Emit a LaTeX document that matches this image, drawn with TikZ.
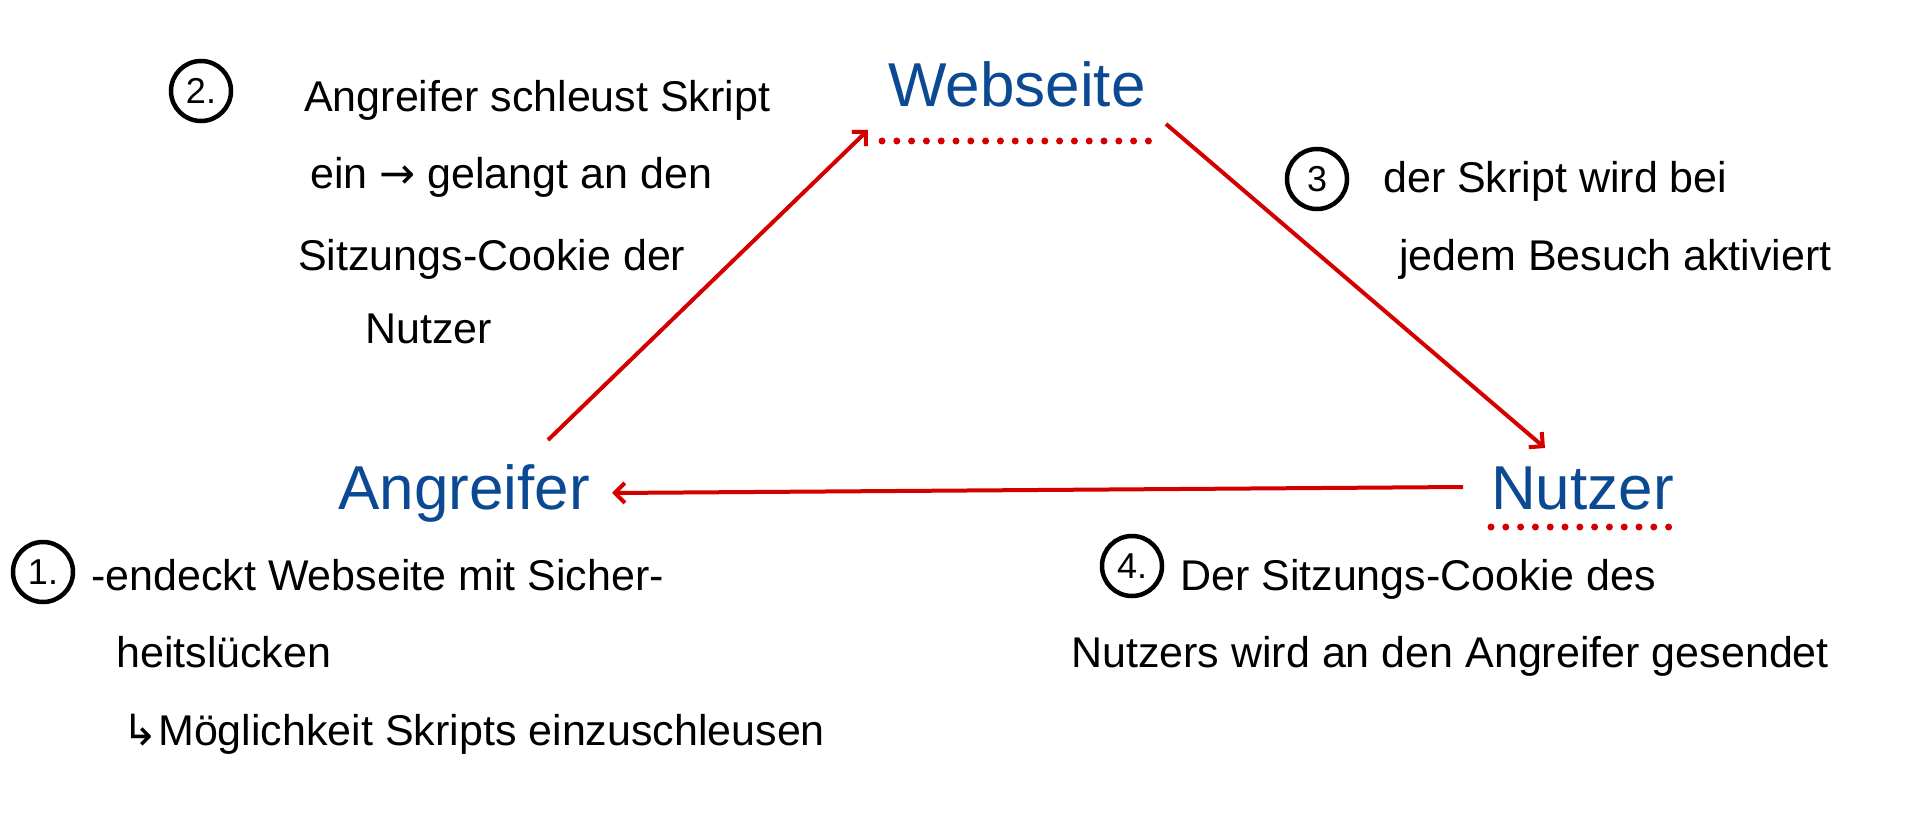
\documentclass[tikz,border=0pt]{standalone}
\usepackage{fontspec}
\setmainfont{Liberation Sans}
\newfontfamily\symfont{DejaVu Sans}
\usetikzlibrary{arrows.meta}
\definecolor{bluelab}{HTML}{0B4A93}
\definecolor{redline}{HTML}{D40000}
\begin{document}
\begin{tikzpicture}[x=1pt,y=-1pt,
  lab/.style={text=bluelab, font=\fontsize{62}{62}\selectfont, inner sep=0pt, anchor=base west},
  txt/.style={font=\fontsize{43}{43}\selectfont, inner sep=0pt, anchor=base west},
  numc/.style={circle, draw, line width=4.5pt, minimum size=60pt, inner sep=0pt, font=\fontsize{36}{36}\selectfont},
  conn/.style={draw=redline, line width=4pt, -{Straight Barb[length=10pt,width=20pt]}},
  dots/.style={redline, line width=7pt, line cap=round, dash pattern=on 0pt off 14.8pt}
]
\useasboundingbox[fill=white] (0,0) rectangle (1908,813);

% main labels
\node[lab] (web) at (888,107) {Webseite};
\node[lab] (ang) at (338,509) {Angreifer};
\node[lab] (nut) at (1491,509) {Nutzer};
\draw[dots] (882,141) -- (1156,141);
\draw[dots] (1491,527) -- (1679,527);

% connectors
\coordinate (a1) at (548,440);
\coordinate (w1) at (868,130);
\coordinate (w2) at (1166,124);
\coordinate (n1) at (1545,448);
\coordinate (n2) at (1463,487);
\coordinate (a2) at (612,493);
\draw[conn] (a1) -- (w1);
\draw[conn] (w2) -- (n1);
\draw[conn] (n2) -- (a2);

% step 2
\node[numc] (c2) at (201,91) {2.};
\node[txt] (t2a) at (304,112) {Angreifer schleust Skript};
\node[txt] (t2b) at (310,189) {ein {\symfont→} gelangt an den};
\node[txt] (t2c) at (298,270) {Sitzungs-Cookie der};
\node[txt] (t2d) at (365,343) {Nutzer};

% step 3
\node[numc] (c3) at (1317,179) {3};
\node[txt] (t3a) at (1383,193) {der Skript wird bei};
\node[txt] (t3b) at (1399,270) {jedem Besuch aktiviert};

% step 1
\node[numc] (c1) at (43,572) {1.};
\node[txt] (t1a) at (91,590) {-endeckt Webseite mit Sicher-};
\node[txt] (t1b) at (116,667) {heitslücken};
\node[txt] (t1c) at (122,745) {{\symfont↳}Möglichkeit Skripts einzuschleusen};

% step 4
\node[numc] (c4) at (1132,566) {4.};
\node[txt] (t4a) at (1180,590) {Der Sitzungs-Cookie des};
\node[txt] (t4b) at (1071,667) {Nutzers wird an den Angreifer gesendet};
\end{tikzpicture}
\end{document}
